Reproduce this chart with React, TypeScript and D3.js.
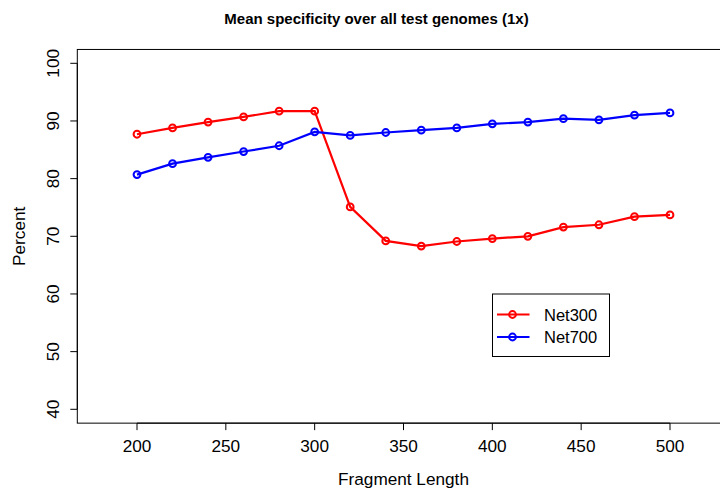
import { useMemo } from "react";
import { scaleLinear, line } from "d3";

const W = 720;
const H = 493;

const fragmentLengths = [200, 220, 240, 260, 280, 300, 320, 340, 360, 380, 400, 420, 440, 460, 480, 500];
const net300 = [87.7, 88.8, 89.8, 90.7, 91.7, 91.7, 75.1, 69.2, 68.3, 69.1, 69.6, 70.0, 71.6, 72.0, 73.4, 73.7];
const net700 = [80.7, 82.6, 83.7, 84.7, 85.7, 88.1, 87.5, 88.0, 88.4, 88.8, 89.5, 89.8, 90.4, 90.2, 91.0, 91.4];
const xTicks = [200, 250, 300, 350, 400, 450, 500];
const yTicks = [40, 50, 60, 70, 80, 90, 100];
const seriesNames = ["Net300", "Net700"];
const seriesColors = ["#ff0000", "#0000ff"];

const title = "Mean specificity over all test genomes (1x)";
const xLabel = "Fragment Length";
const yLabel = "Percent";

const font = "'Liberation Sans', Arial, Helvetica, sans-serif";
const fs = 17.2;

export default function App() {
  const x = useMemo(() => scaleLinear().domain([200, 500]).range([137, 670]), []);
  const y = useMemo(() => scaleLinear().domain([40, 100]).range([409.3, 63.3]), []);

  // R-style 4% padding around the axis range
  const boxL = x(166.4);
  const boxR = x(533.6);
  const boxT = y(100 + 60 * 0.04);
  const boxB = y(40 - 60 * 0.04);

  const series = [net300, net700];
  const path = line<number>()
    .x((_, i) => x(fragmentLengths[i]))
    .y((d) => y(d));

  const legend = { x: 492.5, y: 294, w: 117, h: 62.5 };

  return (
    <svg
      width={W}
      height={H}
      style={{ position: "absolute", left: 0, top: 0, background: "#fff" }}
      fontFamily={font}
    >
      <rect width={W} height={H} fill="#fff" />
      <text x={376.5} y={24} textAnchor="middle" fontWeight="bold" fontSize={15}>
        {title}
      </text>

      {/* plot box */}
      <rect x={boxL} y={boxT} width={boxR - boxL} height={boxB - boxT} fill="none" stroke="#000" strokeWidth={1} />

      {/* x axis */}
      <line x1={x(200)} x2={x(500)} y1={boxB} y2={boxB} stroke="#000" />
      {xTicks.map((t) => (
        <g key={t}>
          <line x1={x(t)} x2={x(t)} y1={boxB} y2={boxB + 7} stroke="#000" />
          <text x={x(t)} y={452} textAnchor="middle" fontSize={fs}>
            {t}
          </text>
        </g>
      ))}
      <text x={(boxL + boxR) / 2} y={485} textAnchor="middle" fontSize={fs}>
        {xLabel}
      </text>

      {/* y axis */}
      <line x1={boxL} x2={boxL} y1={y(40)} y2={y(100)} stroke="#000" />
      {yTicks.map((t) => (
        <g key={t}>
          <line x1={boxL - 7} x2={boxL} y1={y(t)} y2={y(t)} stroke="#000" />
          <text
            transform={`translate(58.5,${y(t)}) rotate(-90)`}
            textAnchor="middle"
            fontSize={fs}
          >
            {t}
          </text>
        </g>
      ))}
      <text
        transform={`translate(25,${(boxT + boxB) / 2}) rotate(-90)`}
        textAnchor="middle"
        fontSize={fs}
      >
        {yLabel}
      </text>

      {/* series */}
      {series.map((s, si) => (
        <g key={seriesNames[si]}>
          <path d={path(s) || ""} fill="none" stroke={seriesColors[si]} strokeWidth={2.2} />
          {s.map((v, i) => (
            <circle
              key={i}
              cx={x(fragmentLengths[i])}
              cy={y(v)}
              r={3.4}
              fill="none"
              stroke={seriesColors[si]}
              strokeWidth={2}
            />
          ))}
        </g>
      ))}

      {/* legend */}
      <rect x={legend.x} y={legend.y} width={legend.w} height={legend.h} fill="#fff" stroke="#000" />
      {seriesNames.map((n, i) => {
        const ly = legend.y + 20.5 + i * 22.5;
        return (
          <g key={n}>
            <line x1={legend.x + 4.5} x2={legend.x + 37} y1={ly} y2={ly} stroke={seriesColors[i]} strokeWidth={2.2} />
            <circle cx={legend.x + 20} cy={ly} r={3.4} fill="none" stroke={seriesColors[i]} strokeWidth={2} />
            <text x={legend.x + 51.5} y={ly + 6} fontSize={16.5}>
              {n}
            </text>
          </g>
        );
      })}
    </svg>
  );
}
